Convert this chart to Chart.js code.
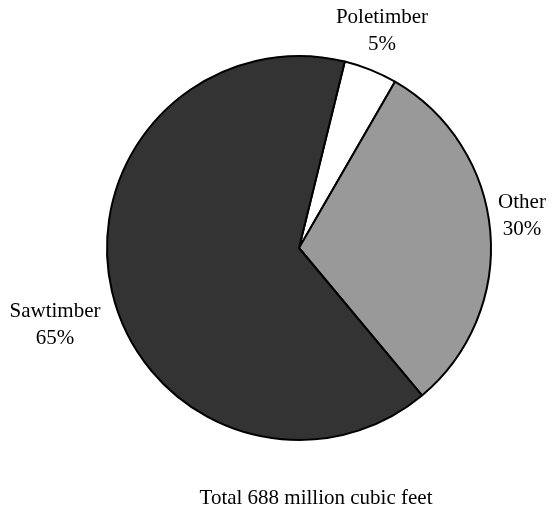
<!DOCTYPE html>
<html>
<head>
<meta charset="utf-8">
<script src="https://cdn.jsdelivr.net/npm/chart.js@4/dist/chart.umd.min.js"></script>
<style>
  html, body { margin: 0; padding: 0; background: #ffffff; }
  #wrap { width: 553px; height: 510px; }
</style>
</head>
<body>
<div id="wrap"><canvas id="c" width="553" height="510"></canvas></div>
<script>
// ---- data ----
const categories = ["Poletimber", "Other", "Sawtimber"];
const shares = [4.5, 30.6, 64.9];
const shareLabels = ["5%", "30%", "65%"];
const caption = "Total 688 million cubic feet";
const sliceColors = ["#ffffff", "#999999", "#333333"];

const FONT = '21px "Liberation Serif", "Times New Roman", serif';

// label anchors relative to the pie centre (in px)
const labelOffsets = [
  { dx: 83, dy: -225 },
  { dx: 223, dy: -40 },
  { dx: -244, dy: 69 }
];
const captionOffset = { dx: 17, dy: 256 };
const LINE_GAP = 27;

const labelPlugin = {
  id: 'pieLabels',
  afterDraw(chart) {
    const ctx = chart.ctx;
    const meta = chart.getDatasetMeta(0);
    const arc0 = meta.data[0];
    const cx = arc0.x, cy = arc0.y;
    ctx.save();
    ctx.font = FONT;
    ctx.fillStyle = '#000000';
    ctx.textAlign = 'center';
    ctx.textBaseline = 'alphabetic';
    meta.data.forEach((arc, i) => {
      const o = labelOffsets[i];
      ctx.fillText(categories[i], cx + o.dx, cy + o.dy);
      ctx.fillText(shareLabels[i], cx + o.dx, cy + o.dy + LINE_GAP);
    });
    ctx.fillText(caption, cx + captionOffset.dx, cy + captionOffset.dy);
    ctx.restore();
  }
};

const bgPlugin = {
  id: 'bg',
  beforeDraw(chart) {
    const ctx = chart.ctx;
    ctx.save();
    ctx.fillStyle = '#ffffff';
    ctx.fillRect(0, 0, chart.width, chart.height);
    ctx.restore();
  }
};

new Chart(document.getElementById('c'), {
  type: 'pie',
  data: {
    labels: categories,
    datasets: [{
      data: shares,
      backgroundColor: sliceColors,
      borderColor: '#000000',
      borderWidth: 2,
      hoverOffset: 0
    }]
  },
  options: {
    responsive: false,
    animation: false,
    rotation: 13.8,
    layout: { padding: { left: 106, right: 61, top: 55, bottom: 69 } },
    plugins: {
      legend: { display: false },
      tooltip: { enabled: false }
    }
  },
  plugins: [bgPlugin, labelPlugin]
});
</script>
</body>
</html>
